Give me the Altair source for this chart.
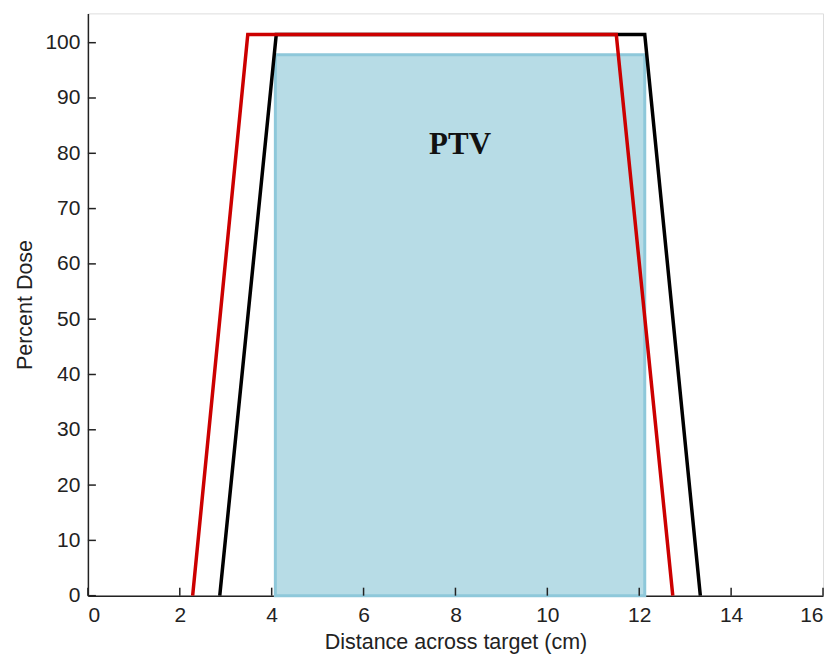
import altair as alt
import pandas as pd

black_x = [2.87, 4.1, 12.12, 13.33]
black_y = [0, 101.5, 101.5, 0]
red_x = [2.28, 3.48, 11.5, 12.73]
red_y = [0, 101.5, 101.5, 0]

ptv_x = [4.08]
ptv_x2 = [12.12]
ptv_y2 = [97.8]

x_ticks = list(range(0, 17, 2))
y_ticks = list(range(0, 101, 10))

W, H = 736, 583

lines = pd.DataFrame({
    "x": black_x + red_x,
    "y": black_y + red_y,
    "s": ["black"] * 4 + ["red"] * 4,
    "o": list(range(4)) * 2,
})
ptv = pd.DataFrame({"x": ptv_x, "x2": ptv_x2, "y": [0], "y2": ptv_y2, "t": ["PTV"], "tx": [8.1], "ty": [81.5]})

xs = alt.Scale(domain=[0, 16], nice=False)
ys = alt.Scale(domain=[0, 105.3], nice=False)

common = dict(ticks=False, grid=False, domainColor="#222", domainWidth=1.5, labelFontSize=21,
              labelColor="#222", titleFontSize=21.5, titleColor="#222", titleFontWeight="normal",
              labelFont="Liberation Sans", titleFont="Liberation Sans")
ax_x = alt.Axis(values=x_ticks, labelPadding=9, titlePadding=6, **common)
ax_y = alt.Axis(values=y_ticks, labelPadding=8, titlePadding=8, **common)

rect = alt.Chart(ptv).mark_rect(fill="#b7dce6", stroke="#8ec8da", strokeWidth=3).encode(
    x=alt.X("x:Q", scale=xs, axis=ax_x, title="Distance across target (cm)"),
    x2="x2:Q",
    y=alt.Y("y:Q", scale=ys, axis=ax_y, title="Percent Dose"),
    y2="y2:Q",
)

txt = alt.Chart(ptv).mark_text(font="Liberation Serif", fontWeight="bold", fontSize=31, color="#111").encode(
    x=alt.X("tx:Q", scale=xs), y=alt.Y("ty:Q", scale=ys), text="t:N"
)

black = alt.Chart(lines[lines.s == "black"]).mark_line(color="black", strokeWidth=3.5).encode(
    x=alt.X("x:Q", scale=xs), y=alt.Y("y:Q", scale=ys), order="o:Q"
)
red = alt.Chart(lines[lines.s == "red"]).mark_line(color="#cc0000", strokeWidth=3.5).encode(
    x=alt.X("x:Q", scale=xs), y=alt.Y("y:Q", scale=ys), order="o:Q"
)

xt = alt.Chart(pd.DataFrame({"v": x_ticks})).mark_rule(color="#222", strokeWidth=1.5).encode(
    x=alt.X("v:Q", scale=xs), y=alt.value(H), y2=alt.value(H - 8)
)
yt = alt.Chart(pd.DataFrame({"v": y_ticks})).mark_rule(color="#222", strokeWidth=1.5).encode(
    y=alt.Y("v:Q", scale=ys), x=alt.value(0), x2=alt.value(8)
)

chart = alt.layer(rect, txt, black, red, xt, yt).properties(
    width=W, height=H, padding={"top": 5, "left": 6, "right": 5, "bottom": 0}
).configure_view(strokeWidth=0, stroke="transparent").configure(background="white")

chart.save("out.html", embed_options={"renderer": "svg", "actions": False})
